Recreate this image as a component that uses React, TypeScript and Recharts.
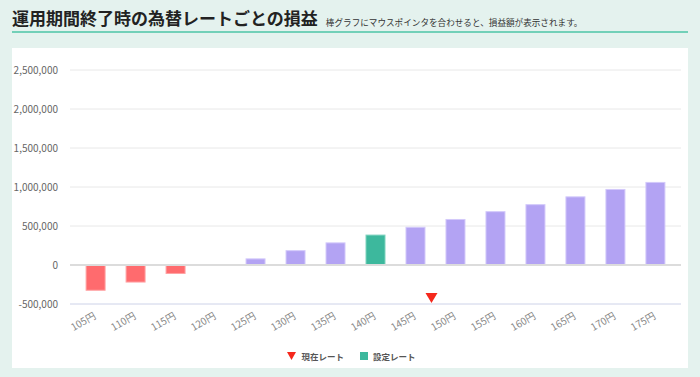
import React from "react";
import {
  BarChart,
  Bar,
  XAxis,
  YAxis,
  CartesianGrid,
  ReferenceLine,
  ReferenceDot,
  Legend,
  Cell,
} from "recharts";

const rates = [105, 110, 115, 120, 125, 130, 135, 140, 145, 150, 155, 160, 165, 170, 175];
const profits = [
  -330000, -225000, -115000, 0, 85000, 190000, 290000, 390000, 490000, 590000, 690000,
  780000, 880000, 975000, 1065000,
];
const yTicks = [-500000, 0, 500000, 1000000, 1500000, 2000000, 2500000];
const settingRate = 140;
const currentRate = 147;

const data = rates.map((rate, i) => ({ rate, profit: profits[i] }));

const FONT = '"Noto Sans CJK JP", "Noto Sans", sans-serif';

function barColor(rate: number, v: number) {
  if (rate === settingRate) return { fill: "#3db89d", stroke: "#7fd3bf" };
  if (v < 0) return { fill: "#ff6b6e", stroke: "#ffa3a4" };
  return { fill: "#b3a3f3", stroke: "#d3c9fa" };
}

function RateTick(props: any) {
  const { x, y, payload } = props;
  return (
    <g transform={`translate(${x + 1},${y + 6})`}>
      <text
        textAnchor="end"
        transform="rotate(-30)"
        fontSize={10}
        fill="#888"
        fontFamily={FONT}
      >
        {payload.value}円
      </text>
    </g>
  );
}

function BarShape(props: any) {
  const { x, y, width, height, fill, stroke } = props;
  if (!height) {
    return <rect x={x - 1} y={y - 2} width={width + 2} height={4} fill="#fff" />;
  }
  const top = height < 0 ? y + height : y;
  return (
    <rect
      x={x + 0.5}
      y={top + 0.5}
      width={width - 1}
      height={Math.abs(height) - 1}
      fill={fill}
      stroke={stroke}
      strokeWidth={1}
    />
  );
}

function Marker(props: any) {
  const { cx, cy } = props;
  return (
    <polygon
      points={`${cx - 6},${cy - 11} ${cx + 6},${cy - 11} ${cx},${cy - 1}`}
      fill="#f5281c"
    />
  );
}

function LegendBox() {
  return (
    <div
      style={{
        display: "flex",
        justifyContent: "center",
        alignItems: "center",
        height: 24,
        paddingLeft: 10,
        fontFamily: FONT,
        fontSize: 8.5,
        fontWeight: 700,
        color: "#555",
      }}
    >
      <span style={{ display: "flex", alignItems: "center", gap: 5 }}>
        <svg width={9} height={8}>
          <polygon points="0,0 9,0 4.5,8" fill="#f5281c" />
        </svg>
        現在レート
      </span>
      <span style={{ display: "flex", alignItems: "center", gap: 5, marginLeft: 16 }}>
        <svg width={8} height={8}>
          <rect x={0} y={0} width={8} height={8} fill="#3db89d" />
        </svg>
        設定レート
      </span>
    </div>
  );
}

export default function App() {
  return (
    <div
      style={{
        position: "absolute",
        left: 0,
        top: 0,
        width: 700,
        height: 377,
        background: "#e4f2ee",
        fontFamily: FONT,
      }}
    >
      <div
        style={{
          position: "absolute",
          left: 12,
          top: 6,
          width: 676,
          height: 27,
          borderBottom: "2px solid #72d0b8",
          display: "flex",
          alignItems: "flex-end",
          paddingBottom: 2,
          boxSizing: "border-box",
        }}
      >
        <span style={{ fontSize: 17, fontWeight: 700, color: "#222", lineHeight: "22px" }}>
          運用期間終了時の為替レートごとの損益
        </span>
        <span style={{ fontSize: 8.6, color: "#333", marginLeft: 8, lineHeight: "14px" }}>
          棒グラフにマウスポインタを合わせると、損益額が表示されます。
        </span>
      </div>
      <div
        style={{
          position: "absolute",
          left: 12,
          top: 48,
          width: 676,
          height: 320,
          background: "#fff",
        }}
      >
        <BarChart
          width={676}
          height={320}
          data={data}
          margin={{ top: 22, right: 7, left: 0, bottom: 0 }}
        >
          <CartesianGrid vertical={false} stroke="#e8e8e8" />
          <XAxis
            dataKey="rate"
            type="number"
            domain={[101.8, 178.2]}
            ticks={rates}
            interval={0}
            tick={<RateTick />}
            tickLine={false}
            axisLine={{ stroke: "#d9def4" }}
            height={40}
            allowDataOverflow
          />
          <YAxis
            domain={[-500000, 2500000]}
            ticks={yTicks}
            tickFormatter={(v: number) => v.toLocaleString("en-US")}
            tick={{ fontSize: 10, fill: "#666", fontFamily: FONT }}
            tickLine={false}
            axisLine={false}
            tickSize={0}
            tickMargin={12}
            width={58}
          />
          <ReferenceLine y={0} stroke="#dcdcdc" strokeWidth={2} />
          <Bar dataKey="profit" barSize={20} isAnimationActive={false} shape={<BarShape />}>
            {data.map((d) => {
              const c = barColor(d.rate, d.profit);
              return <Cell key={d.rate} fill={c.fill} stroke={c.stroke} />;
            })}
          </Bar>
          <ReferenceDot x={currentRate} y={-500000} shape={<Marker />} />
          <Legend verticalAlign="bottom" height={24} content={<LegendBox />} />
        </BarChart>
      </div>
    </div>
  );
}
